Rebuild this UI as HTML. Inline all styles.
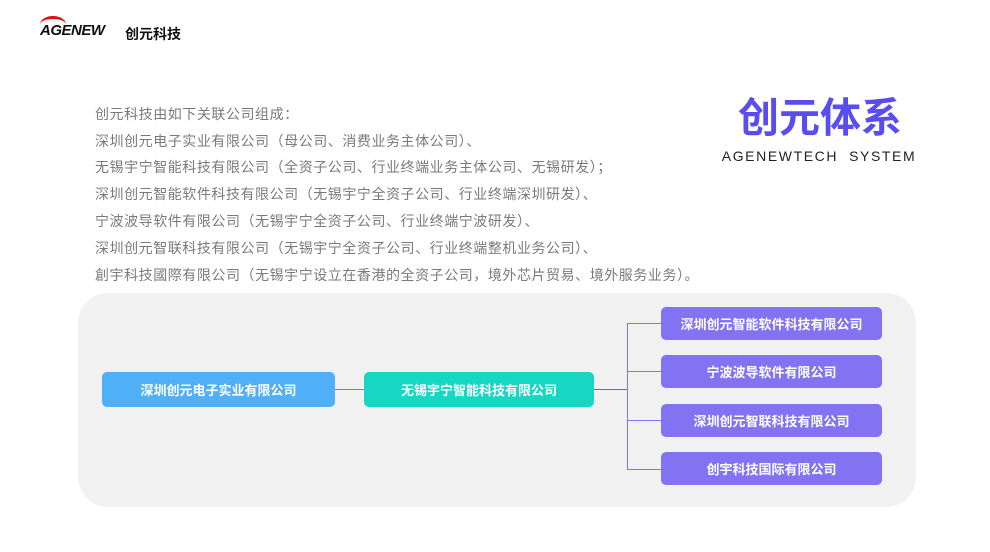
<!DOCTYPE html>
<html><head><meta charset="utf-8"><style>
body{margin:0;width:990px;height:552px;background:#fff;position:relative;overflow:hidden;font-family:"Liberation Sans","Noto Sans CJK SC",sans-serif}
.a{position:absolute}
.t{left:95px;font-size:14px;color:#7a7a7a;white-space:nowrap;line-height:20px;letter-spacing:0.55px}
.b{position:absolute;border-radius:5px;color:#fff;font-weight:bold;font-size:13px;display:flex;align-items:center;justify-content:center}
.p{background:#8373f3;left:661px;width:221px;height:33px}
</style></head><body>
<div class="a" style="left:40px;top:22px;font-style:italic;font-weight:bold;font-size:15px;color:#111;letter-spacing:-0.5px">AGENEW</div>
<div class="a" style="left:40px;top:16px;width:26px;height:14px;border-top:3px solid #d11;border-radius:50% 50% 0 0"></div>
<div class="a" style="left:125px;top:24px;font-size:14px;font-weight:bold;color:#111">创元科技</div>
<div class="a t" style="top:104px">创元科技由如下关联公司组成：</div>
<div class="a t" style="top:131px">深圳创元电子实业有限公司（母公司、消费业务主体公司）、</div>
<div class="a t" style="top:157px">无锡宇宁智能科技有限公司（全资子公司、行业终端业务主体公司、无锡研发）；</div>
<div class="a t" style="top:184px">深圳创元智能软件科技有限公司（无锡宇宁全资子公司、行业终端深圳研发）、</div>
<div class="a t" style="top:211px">宁波波导软件有限公司（无锡宇宁全资子公司、行业终端宁波研发）、</div>
<div class="a t" style="top:238px">深圳创元智联科技有限公司（无锡宇宁全资子公司、行业终端整机业务公司）、</div>
<div class="a t" style="top:265px">創宇科技國際有限公司（无锡宇宁设立在香港的全资子公司，境外芯片贸易、境外服务业务）。</div>
<div class="a" style="left:720px;top:92px;width:200px;text-align:center;font-size:41px;font-weight:bold;color:#5a4df0;line-height:52px">创元体系</div>
<div class="a" style="left:719px;top:148px;width:200px;text-align:center;font-size:14px;color:#222;letter-spacing:1.6px">AGENEWTECH&nbsp;&nbsp;SYSTEM</div>
<div class="a" style="left:78px;top:293px;width:838px;height:214px;background:#f1f1f1;border-radius:30px"></div>
<div class="b" style="left:102px;top:372px;width:233px;height:35px;background:#4fb0f7">深圳创元电子实业有限公司</div>
<div class="b" style="left:364px;top:372px;width:230px;height:35px;background:#17d6c4">无锡宇宁智能科技有限公司</div>
<svg class="a" style="left:0;top:0" width="990" height="552">
<line x1="335" y1="389.5" x2="364" y2="389.5" stroke="#8373f3"/>
<line x1="594" y1="389.5" x2="627" y2="389.5" stroke="#3b7dd0"/>
<path d="M661 323.5H627.5V469.5H661M627 371.5H661M627 420.5H661" fill="none" stroke="#8373f3"/>
</svg>
<div class="b p" style="top:307px">深圳创元智能软件科技有限公司</div>
<div class="b p" style="top:355px">宁波波导软件有限公司</div>
<div class="b p" style="top:404px">深圳创元智联科技有限公司</div>
<div class="b p" style="top:452px">创宇科技国际有限公司</div>
</body></html>
